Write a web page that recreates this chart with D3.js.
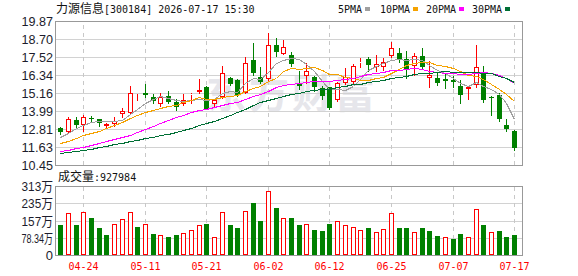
<!DOCTYPE html>
<html>
<head>
<meta charset="utf-8">
<script src="https://cdn.jsdelivr.net/npm/d3@7"></script>
<style>
  body { margin: 0; background: #fff; }
  svg { display: block; }
</style>
</head>
<body>
<div class="chart"></div>
<script>
// 力源信息 300184, daily k-line, 60 sessions
const stockName = '力源信息';
const stockCode = '300184';
const stamp = '2026-07-17 15:30';
const lastVolume = 927984;

const dates = ['04-21','04-22','04-23','04-24','04-27','04-28','04-29','04-30','05-06','05-07',
  '05-08','05-11','05-12','05-13','05-14','05-15','05-18','05-19','05-20','05-21',
  '05-22','05-25','05-26','05-27','05-28','05-29','06-01','06-02','06-03','06-04',
  '06-05','06-08','06-09','06-10','06-11','06-12','06-15','06-16','06-17','06-18',
  '06-22','06-23','06-24','06-25','06-26','06-29','06-30','07-01','07-02','07-03',
  '07-06','07-07','07-08','07-09','07-10','07-13','07-14','07-15','07-16','07-17'];

const opens = [12.85,12.63,13.39,13.07,13.52,13.44,13.02,13.13,13.79,13.87,
  14.88,15.18,14.88,14.42,14.96,14.59,14.44,15.01,15.25,15.53,
  14.42,14.88,16.12,16.01,15.18,17.32,16.18,16.05,18.30,17.71,
  17.62,15.79,16.29,16.18,15.47,15.53,14.70,15.84,15.88,17.10,
  17.38,16.88,16.84,17.60,17.76,17.36,16.93,17.58,16.12,16.12,
  16.08,15.99,15.62,15.40,15.66,16.49,14.92,15.03,13.05,12.67];
const highs = [12.96,13.61,13.57,13.72,13.66,13.46,13.18,13.57,14.16,15.62,
  15.09,15.75,15.09,15.14,15.29,14.79,15.09,15.18,16.08,15.62,
  14.75,16.93,16.23,16.05,17.54,18.45,16.84,19.11,18.74,18.63,
  17.84,16.60,17.14,16.27,15.62,15.57,15.90,16.77,17.06,17.43,
  17.54,17.65,17.43,18.47,18.08,17.91,17.76,18.08,17.28,16.51,
  16.40,16.27,16.01,15.62,18.30,16.93,14.96,15.14,13.46,12.72];
const lows = [12.48,12.57,12.96,12.70,13.33,13.00,12.96,13.00,13.61,13.85,
  14.70,14.92,14.48,14.33,14.53,14.05,14.37,14.48,15.14,14.09,
  14.22,14.86,15.68,14.96,15.16,16.34,15.84,16.01,17.58,17.69,
  16.93,15.42,15.79,15.31,14.75,14.09,14.66,15.75,15.84,16.88,
  16.62,16.62,16.66,17.54,17.21,16.12,16.34,16.77,15.53,15.68,
  15.51,15.53,14.53,14.75,15.57,14.59,13.72,13.35,12.70,11.43];
const closes = [12.59,13.44,13.07,13.61,13.48,13.22,13.13,13.31,13.96,15.16,
  14.92,15.03,14.66,14.92,14.59,14.27,14.68,15.09,15.36,14.13,
  14.70,16.45,15.75,15.03,17.10,16.49,15.90,18.30,17.86,18.15,
  17.06,15.64,16.60,15.57,14.96,14.16,15.79,16.23,16.93,17.21,
  17.02,17.06,17.21,18.13,17.36,16.73,17.58,16.88,16.34,15.79,
  15.92,15.88,15.05,15.53,16.84,14.70,14.81,13.48,12.78,11.54];

// volume in 万股
const volumes = [136,190,136,195,168,122,91,140,163,195,
  127,140,95,91,82,91,100,113,136,140,
  82,195,136,122,200,236,154,290,213,168,
  168,136,140,113,109,140,154,136,127,113,
  122,104,118,190,122,122,104,122,109,86,
  82,73,95,82,209,136,104,109,82,92.8];

const ma5 = [12.26,12.56,12.85,13.05,13.24,13.36,13.30,13.35,13.42,13.76,
  14.10,14.48,14.75,14.94,14.82,14.69,14.62,14.71,14.80,14.71,
  14.79,15.15,15.28,15.21,15.81,16.16,16.05,16.56,17.13,17.34,
  17.45,17.40,17.06,16.60,15.97,15.39,15.42,15.34,15.61,16.06,
  16.65,16.90,17.10,17.34,17.37,17.29,17.40,17.34,16.98,16.66,
  16.50,16.17,15.80,15.64,15.85,15.61,15.39,15.07,14.52,13.46];
const ma10 = [11.87,12.05,12.22,12.40,12.55,12.70,12.85,13.05,13.25,13.50,
  13.73,13.89,14.05,14.18,14.29,14.40,14.55,14.73,14.87,14.77,
  14.74,14.89,14.99,15.01,15.26,15.48,15.60,15.92,16.17,16.57,
  16.81,16.73,16.81,16.87,16.65,16.42,16.41,16.20,16.11,16.02,
  16.02,16.16,16.22,16.48,16.72,16.97,17.15,17.22,17.16,17.02,
  16.90,16.78,16.57,16.31,16.26,16.05,15.78,15.44,15.08,14.66];
const ma20 = [11.38,11.45,11.55,11.65,11.77,11.90,12.03,12.16,12.30,12.43,
  12.62,12.80,12.98,13.17,13.38,13.57,13.75,13.90,14.03,14.13,
  14.24,14.39,14.52,14.59,14.77,14.94,15.08,15.32,15.52,15.67,
  15.78,15.81,15.90,15.94,15.95,15.95,16.00,16.06,16.14,16.29,
  16.41,16.44,16.52,16.67,16.68,16.70,16.78,16.71,16.63,16.52,
  16.46,16.47,16.39,16.39,16.49,16.51,16.46,16.33,16.12,15.84];
const ma30 = [11.25,11.31,11.37,11.43,11.52,11.62,11.72,11.82,11.92,12.01,
  12.11,12.22,12.31,12.40,12.50,12.62,12.76,12.90,13.04,13.20,
  13.36,13.54,13.72,13.92,14.12,14.35,14.55,14.72,14.85,14.95,
  15.09,15.17,15.29,15.35,15.40,15.43,15.52,15.62,15.72,15.78,
  15.86,15.92,16.01,16.12,16.21,16.29,16.39,16.45,16.48,16.53,
  16.57,16.56,16.53,16.55,16.54,16.48,16.45,16.29,16.12,15.90];

const priceTicks = [10.45, 11.63, 12.81, 13.99, 15.16, 16.34, 17.52, 18.70, 19.87];
const volTicks = [0, 78.34, 156.68, 235.02, 313.36];
const volTickLabels = ['0', '78.34万', '157万', '235万', '313万'];
const labelDates = ['04-24', '05-11', '05-21', '06-02', '06-12', '06-25', '07-07', '07-17'];
const maNames = ['5PMA', '10PMA', '20PMA', '30PMA'];

const maColors = ['#a0a0a0', '#f5a200', '#ff00ff', '#006f35'];
const upColor = '#ff0000';
const downColor = '#008000';
const cjk = "'Noto Sans CJK SC', sans-serif";
const mono = "'DejaVu Sans Mono', monospace";
const sans = "'Liberation Sans', Arial, 'Noto Sans CJK SC', sans-serif";

const width = 578, height = 276;
const plot = {left: 55, right: 522, top: 21, bottom: 165};
const vol = {top: 186, bottom: 255};

const svg = d3.select('.chart').append('svg')
    .attr('width', width)
    .attr('height', height);

const x = d3.scaleBand().domain(dates).range([56.5, 517.9]);
const cx = d => Math.round(x(d) + x.bandwidth() / 2);
const y = d3.scaleLinear().domain([10.45, 19.87]).rangeRound([plot.bottom, plot.top]);
const yv = d3.scaleLinear().domain([0, 313.36]).rangeRound([vol.bottom, vol.top]);

// header texts
const title = svg.append('text').attr('x', 56).attr('y', 13).attr('fill', '#111');
title.append('tspan').attr('font-family', cjk).attr('font-size', 12).text(stockName);
title.append('tspan').attr('font-family', mono).attr('font-size', 10)
    .text(`[${stockCode}] ${stamp}`);

const legendX = [338, 380, 426, 472];
const legend = svg.append('g').selectAll('g')
  .data(maNames)
  .join('g')
    .attr('transform', (d, i) => `translate(${legendX[i]},0)`);
legend.append('text')
    .attr('y', 12.5)
    .attr('font-family', mono)
    .attr('font-size', 10)
    .attr('fill', '#111')
    .text(d => d);
legend.append('rect')
    .attr('x', d => d.length * 6 + 3)
    .attr('y', 7)
    .attr('width', 5)
    .attr('height', 4)
    .attr('fill', (d, i) => maColors[i]);

// watermark
svg.append('text')
    .attr('x', 206)
    .attr('y', 108)
    .attr('font-family', cjk)
    .attr('font-size', 40)
    .attr('font-weight', 'bold')
    .attr('letter-spacing', 3)
    .attr('fill', '#e6e6eb')
    .text('东方财富');

// grids
svg.append('g')
    .attr('transform', `translate(${plot.left},0)`)
    .call(d3.axisLeft(y).tickValues(priceTicks.slice(1, -1)).tickSize(-(plot.right - plot.left)).tickFormat(''))
    .call(g => g.select('.domain').remove())
    .selectAll('line').attr('stroke', '#d2d2d2');

svg.append('g')
    .attr('transform', `translate(${plot.left},0)`)
    .call(d3.axisLeft(yv).tickValues(volTicks.slice(1, -1)).tickSize(-(plot.right - plot.left)).tickFormat(''))
    .call(g => g.select('.domain').remove())
    .selectAll('line').attr('stroke', '#d2d2d2');

const vGrid = function (top, bottom) {
  svg.append('g')
      .attr('transform', `translate(0,${bottom})`)
      .call(d3.axisBottom(x).tickValues(labelDates).tickSize(-(bottom - top)).tickFormat(''))
      .call(g => g.select('.domain').remove())
      .call(g => g.selectAll('.tick').attr('transform', d => `translate(${cx(d) + 0.5},0)`))
      .selectAll('line')
        .attr('stroke', '#c8c8c8')
        .attr('stroke-dasharray', '4,4');
};
vGrid(plot.top, plot.bottom);
vGrid(vol.top, vol.bottom);

// frames
svg.append('rect')
    .attr('x', plot.left + 0.5).attr('y', plot.top + 0.5)
    .attr('width', plot.right - plot.left).attr('height', plot.bottom - plot.top)
    .attr('fill', 'none').attr('stroke', '#999');
svg.append('rect')
    .attr('x', plot.left + 0.5).attr('y', vol.top + 0.5)
    .attr('width', plot.right - plot.left).attr('height', vol.bottom - vol.top)
    .attr('fill', 'none').attr('stroke', '#999');

// y axes
const styleLeftAxis = function (g) {
  g.select('.domain').remove();
  g.attr('font-family', sans).attr('font-size', 13);
  g.selectAll('text').attr('fill', '#1c1c2c').each(function () {
    if (this.getComputedTextLength() > 31.5) {
      d3.select(this).attr('textLength', 31.5).attr('lengthAdjust', 'spacingAndGlyphs');
    }
  });
};

svg.append('g')
    .attr('transform', `translate(${plot.left - 1},0.5)`)
    .call(d3.axisLeft(y).tickValues(priceTicks).tickSize(0).tickPadding(1).tickFormat(d3.format('.2f')))
    .call(styleLeftAxis);

svg.append('g')
    .attr('transform', `translate(${plot.left - 1},0.5)`)
    .call(d3.axisLeft(yv).tickValues(volTicks).tickSize(0).tickPadding(1).tickFormat((d, i) => volTickLabels[i]))
    .call(styleLeftAxis);

// x axis labels
svg.append('g')
    .attr('transform', `translate(0,${vol.bottom})`)
    .call(d3.axisBottom(x).tickValues(labelDates).tickSize(0).tickPadding(8))
    .call(g => g.select('.domain').remove())
    .call(g => g.selectAll('.tick').attr('transform', d => `translate(${cx(d) + 0.5},0)`))
    .attr('font-family', mono)
    .attr('font-size', 10)
    .selectAll('text').attr('fill', upColor);

// candles
const bars = dates.map((d, i) => ({
  date: d, open: opens[i], high: highs[i], low: lows[i], close: closes[i],
  volume: volumes[i],
  up: closes[i] >= opens[i],
  volUp: i === 0 ? closes[i] >= opens[i] : closes[i] >= closes[i - 1]
}));

const candles = svg.append('g').attr('class', 'candles')
  .selectAll('g')
  .data(bars)
  .join('g');

candles.filter(d => !d.up).each(function (d) {
  const g = d3.select(this);
  const c = cx(d.date);
  g.append('line')
      .attr('x1', c + 0.5).attr('x2', c + 0.5)
      .attr('y1', y(d.high)).attr('y2', y(d.low) + 1)
      .attr('stroke', downColor);
  g.append('rect')
      .attr('x', c - 2).attr('width', 5)
      .attr('y', y(d.open))
      .attr('height', Math.max(1, y(d.close) - y(d.open)))
      .attr('fill', downColor);
});

candles.filter(d => d.up).each(function (d) {
  const g = d3.select(this);
  const c = cx(d.date);
  const top = y(d.close), bot = y(d.open);
  g.append('line')
      .attr('x1', c + 0.5).attr('x2', c + 0.5)
      .attr('y1', y(d.high)).attr('y2', top)
      .attr('stroke', upColor);
  g.append('line')
      .attr('x1', c + 0.5).attr('x2', c + 0.5)
      .attr('y1', bot).attr('y2', y(d.low) + 1)
      .attr('stroke', upColor);
  g.append('rect')
      .attr('x', c - 1.5).attr('width', 4)
      .attr('y', top + 0.5)
      .attr('height', Math.max(0, bot - top - 1))
      .attr('fill', '#fff')
      .attr('stroke', upColor);
});

// moving averages
const maLine = d3.line()
    .x((d, i) => cx(dates[i]) + 0.5)
    .y(d => y(d) + 0.5);

svg.append('g').selectAll('path')
  .data([ma5, ma10, ma20, ma30])
  .join('path')
    .attr('d', maLine)
    .attr('fill', 'none')
    .attr('stroke', (d, i) => maColors[i])
    .attr('stroke-width', 1)
    .attr('shape-rendering', 'crispEdges');

// volume
const volHeader = svg.append('text').attr('x', 58).attr('y', 181).attr('fill', '#111');
volHeader.append('tspan').attr('font-family', cjk).attr('font-size', 12).text('成交量');
volHeader.append('tspan').attr('font-family', mono).attr('font-size', 10).text(':' + lastVolume);

const vbars = svg.append('g').attr('class', 'volume')
  .selectAll('rect')
  .data(bars)
  .join('rect');

vbars.filter(d => !d.volUp)
    .attr('x', d => cx(d.date) - 2)
    .attr('width', 5)
    .attr('y', d => yv(d.volume))
    .attr('height', d => vol.bottom - yv(d.volume))
    .attr('fill', downColor);

vbars.filter(d => d.volUp)
    .attr('x', d => cx(d.date) - 1.5)
    .attr('width', 4)
    .attr('y', d => yv(d.volume) + 0.5)
    .attr('height', d => vol.bottom - yv(d.volume) - 1)
    .attr('fill', '#fff')
    .attr('stroke', upColor);
</script>
</body>
</html>
